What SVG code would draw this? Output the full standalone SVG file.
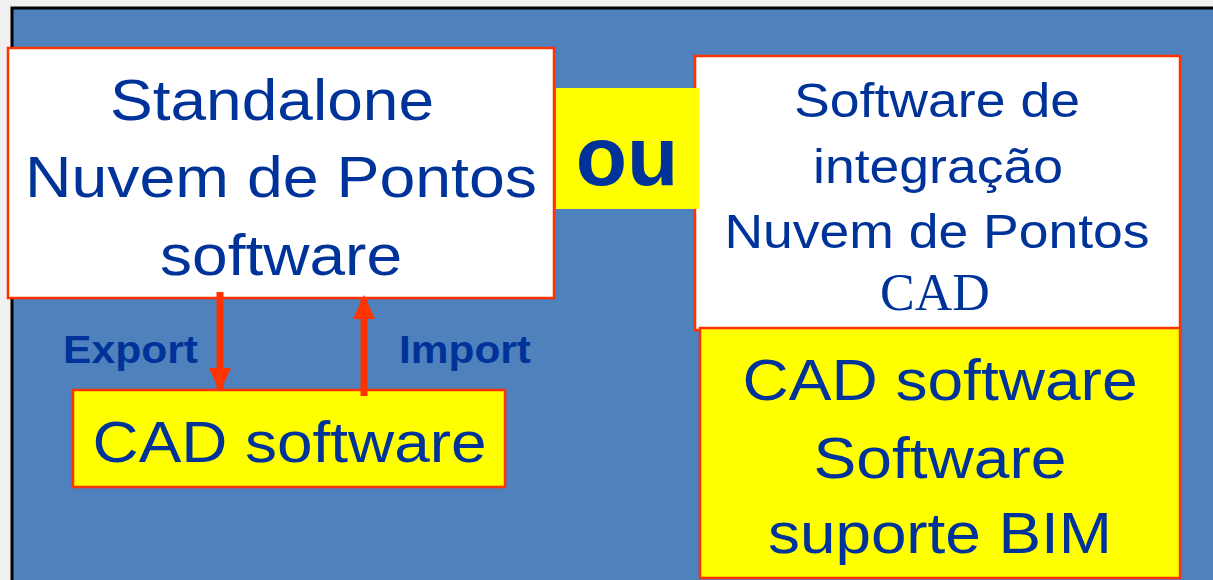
<svg xmlns="http://www.w3.org/2000/svg" width="1213" height="580" viewBox="0 0 1213 580">
<style>
.t{font-family:"Liberation Sans",Arial,sans-serif;fill:#003399;text-anchor:middle}
.b{font-weight:bold}
.serif{font-family:"Liberation Serif","Times New Roman",serif;fill:#003399;text-anchor:middle}
.wbox{fill:#ffffff;stroke:#ff3300;stroke-width:2.5}
.ybox{fill:#ffff00;stroke:#ff3300;stroke-width:2.5}
.conn{stroke:#ff3300;stroke-width:7;fill:none}
</style>
<defs>
<marker id="ah" viewBox="0 0 24 22" refX="22" refY="11" markerWidth="24" markerHeight="22" markerUnits="userSpaceOnUse" orient="auto">
<path d="M0,0 L24,11 L0,22 Z" fill="#ff3300"/>
</marker>
</defs>
<rect x="0" y="0" width="1213" height="580" fill="#f0f0f0"/>
<rect id="panel" x="12" y="8" width="1210" height="580" fill="#4f81bd" stroke="#000000" stroke-width="3"/>
<g id="standalone">
<rect class="wbox" x="8" y="48" width="546" height="250"/>
<text class="t" x="272" y="120" font-size="58" textLength="324" lengthAdjust="spacingAndGlyphs">Standalone</text>
<text class="t" x="281" y="197" font-size="58" textLength="512" lengthAdjust="spacingAndGlyphs">Nuvem de Pontos</text>
<text class="t" x="281" y="275" font-size="58" textLength="242" lengthAdjust="spacingAndGlyphs">software</text>
</g>
<g id="integracao">
<rect class="wbox" x="695" y="56" width="485" height="274"/>
<text class="t" x="937" y="117" font-size="48" textLength="286" lengthAdjust="spacingAndGlyphs">Software de</text>
<text class="t" x="938" y="183" font-size="48" textLength="250" lengthAdjust="spacingAndGlyphs">integração</text>
<text class="t" x="937" y="248" font-size="48" textLength="425" lengthAdjust="spacingAndGlyphs">Nuvem de Pontos</text>
<text class="serif" x="935" y="310" font-size="52">CAD</text>
</g>
<g id="ou">
<rect x="556" y="88" width="143" height="121" fill="#ffff00"/>
<text class="t b" x="627" y="185" font-size="84">ou</text>
</g>
<g id="cad-left">
<rect class="ybox" x="73" y="390" width="432" height="97"/>
<text class="t" x="289.5" y="462" font-size="58" textLength="394" lengthAdjust="spacingAndGlyphs">CAD software</text>
</g>
<g id="cad-right">
<rect class="ybox" x="700" y="328" width="480" height="250"/>
<text class="t" x="940" y="400" font-size="58" textLength="395" lengthAdjust="spacingAndGlyphs">CAD software</text>
<text class="t" x="940" y="478" font-size="58" textLength="253" lengthAdjust="spacingAndGlyphs">Software</text>
<text class="t" x="940" y="553" font-size="58" textLength="344" lengthAdjust="spacingAndGlyphs">suporte BIM</text>
</g>
<g id="connectors">
<line class="conn" x1="220" y1="292" x2="220" y2="390" marker-end="url(#ah)"/>
<line class="conn" x1="364" y1="396" x2="364" y2="297" marker-end="url(#ah)"/>
<text class="t b" x="130.5" y="363" font-size="39" textLength="135" lengthAdjust="spacingAndGlyphs">Export</text>
<text class="t b" x="465" y="363" font-size="39" textLength="132" lengthAdjust="spacingAndGlyphs">Import</text>
</g>
</svg>
